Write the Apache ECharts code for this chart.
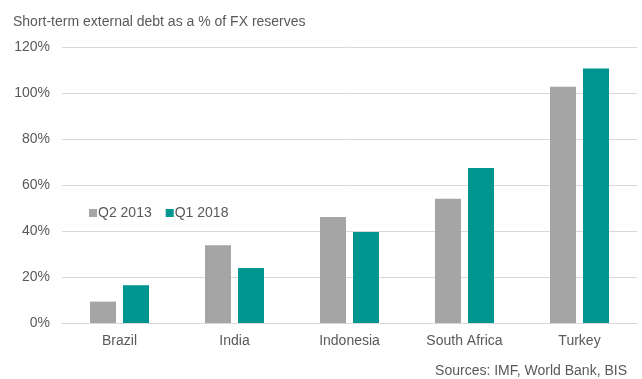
<!DOCTYPE html>
<html>
<head>
<meta charset="utf-8">
<script src="https://cdn.jsdelivr.net/npm/echarts@6/dist/echarts.min.js"></script>
<style>html,body{margin:0;padding:0;background:#fff;}#c{width:642px;height:379px;}</style>
</head>
<body>
<div id="c"></div>
<script>
const categories = ["Brazil", "India", "Indonesia", "South Africa", "Turkey"];
const q2_2013 = [9.3, 33.8, 46.1, 54.0, 102.7];
const q1_2018 = [16.4, 23.9, 39.6, 67.4, 110.7];
const seriesNames = ["Q2 2013", "Q1 2018"];
const yTicks = [0, 20, 40, 60, 80, 100, 120];

const chart = echarts.init(document.getElementById('c'), null, {renderer: 'canvas'});
const font = 'Liberation Sans, Arial, sans-serif';
chart.setOption({
  animation: false,
  backgroundColor: '#ffffff',
  textStyle: {fontFamily: font},
  title: [
    {text: 'Short-term external debt as a % of FX reserves', left: 8, top: 10,
     textStyle: {fontFamily: font, fontSize: 14, fontWeight: 'normal', color: '#595959'}},
    {text: 'Sources: IMF, World Bank, BIS', right: 10, top: 359,
     textStyle: {fontFamily: font, fontSize: 14, fontWeight: 'normal', color: '#595959'}}
  ],
  legend: {
    data: seriesNames, left: 84, top: 201, itemWidth: 8, itemHeight: 8, itemGap: 14,
    icon: 'rect',
    textStyle: {fontFamily: font, fontSize: 14, color: '#595959', padding: [0,0,0,-4]}
  },
  grid: {left: 62, right: 5, top: 47, bottom: 56},
  xAxis: {
    type: 'category', data: categories,
    axisTick: {show: false},
    axisLine: {lineStyle: {color: '#d9d9d9'}},
    axisLabel: {fontFamily: font, fontSize: 14, color: '#595959', margin: 11}
  },
  yAxis: {
    type: 'value', min: yTicks[0], max: yTicks[yTicks.length-1], interval: 20,
    axisLine: {show: false}, axisTick: {show: false},
    splitLine: {lineStyle: {color: '#d9d9d9'}},
    axisLabel: {fontFamily: font, fontSize: 14, color: '#595959', margin: 12, formatter: '{value}%'}
  },
  series: [
    {name: seriesNames[0], type: 'bar', data: q2_2013, barWidth: 26, barGap: '27%',
     itemStyle: {color: '#a5a5a5'}},
    {name: seriesNames[1], type: 'bar', data: q1_2018, barWidth: 26,
     itemStyle: {color: '#009690'}}
  ]
});
</script>
</body>
</html>
